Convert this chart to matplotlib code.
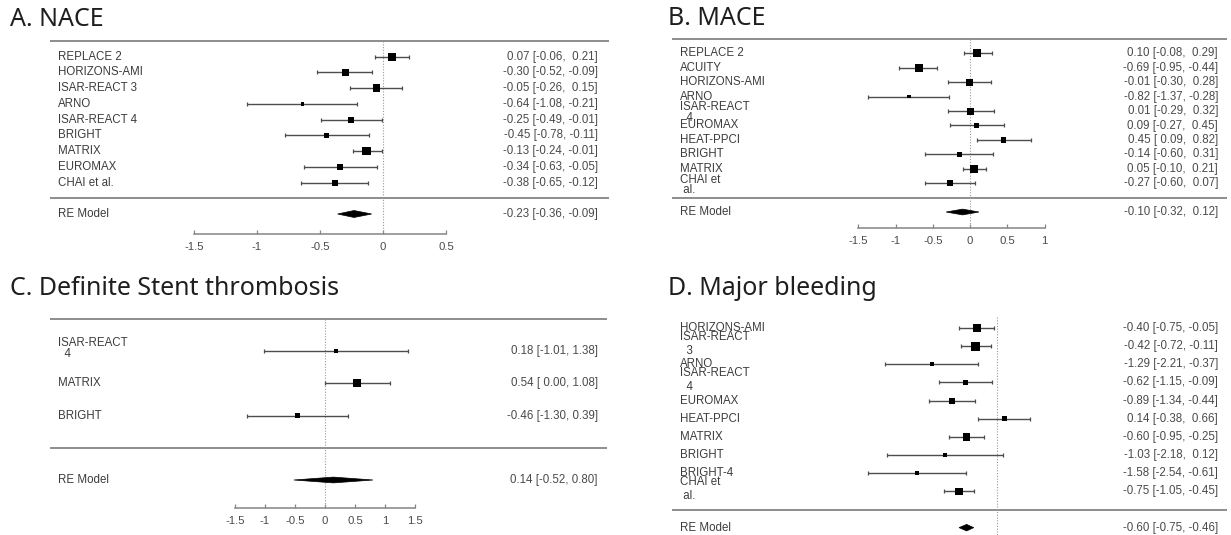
import matplotlib
matplotlib.use("Agg")
import matplotlib.pyplot as plt
import matplotlib.transforms as mtransforms
from matplotlib.patches import Polygon

plt.rcParams['axes.unicode_minus'] = False

W, H, DPI = 1231, 535, 100

# ---------------- data ----------------
nace_studies = ["REPLACE 2", "HORIZONS-AMI", "ISAR-REACT 3", "ARNO", "ISAR-REACT 4",
                "BRIGHT", "MATRIX", "EUROMAX", "CHAI et al."]
nace_est = [0.07, -0.30, -0.05, -0.64, -0.25, -0.45, -0.13, -0.34, -0.38]
nace_lo = [-0.06, -0.52, -0.26, -1.08, -0.49, -0.78, -0.24, -0.63, -0.65]
nace_hi = [0.21, -0.09, 0.15, -0.21, -0.01, -0.11, -0.01, -0.05, -0.12]
nace_pooled = [-0.23, -0.36, -0.09]
nace_ticks = [-1.5, -1, -0.5, 0, 0.5]
nace_ticklabels = ["-1.5", "-1", "-0.5", "0", "0.5"]

mace_studies = ["REPLACE 2", "ACUITY", "HORIZONS-AMI", "ARNO", "ISAR-REACT\n  4",
                "EUROMAX", "HEAT-PPCI", "BRIGHT", "MATRIX", "CHAI et\n al."]
mace_est = [0.10, -0.69, -0.01, -0.82, 0.01, 0.09, 0.45, -0.14, 0.05, -0.27]
mace_lo = [-0.08, -0.95, -0.30, -1.37, -0.29, -0.27, 0.09, -0.60, -0.10, -0.60]
mace_hi = [0.29, -0.44, 0.28, -0.28, 0.32, 0.45, 0.82, 0.31, 0.21, 0.07]
mace_pooled = [-0.10, -0.32, 0.12]
mace_ticks = [-1.5, -1, -0.5, 0, 0.5, 1]
mace_ticklabels = ["-1.5", "-1", "-0.5", "0", "0.5", "1"]

st_studies = ["ISAR-REACT\n  4", "MATRIX", "BRIGHT"]
st_est = [0.18, 0.54, -0.46]
st_lo = [-1.01, 0.00, -1.30]
st_hi = [1.38, 1.08, 0.39]
st_pooled = [0.14, -0.52, 0.80]
st_ticks = [-1.5, -1, -0.5, 0, 0.5, 1, 1.5]
st_ticklabels = ["-1.5", "-1", "-0.5", "0", "0.5", "1", "1.5"]

bleed_studies = ["HORIZONS-AMI", "ISAR-REACT\n  3", "ARNO", "ISAR-REACT\n  4", "EUROMAX",
                 "HEAT-PPCI", "MATRIX", "BRIGHT", "BRIGHT-4", "CHAI et\n al."]
bleed_est = [-0.40, -0.42, -1.29, -0.62, -0.89, 0.14, -0.60, -1.03, -1.58, -0.75]
bleed_lo = [-0.75, -0.72, -2.21, -1.15, -1.34, -0.38, -0.95, -2.18, -2.54, -1.05]
bleed_hi = [-0.05, -0.11, -0.37, -0.09, -0.44, 0.66, -0.25, 0.12, -0.61, -0.45]
bleed_pooled = [-0.60, -0.75, -0.46]

# square sizes (px) reflecting study weights
nace_box = [8, 7, 7.5, 3.5, 6, 4.5, 8.5, 5.5, 6]
mace_box = [8, 8, 7, 3.5, 7, 5.5, 5.5, 4.5, 8, 6.5]
st_box = [3.5, 8, 5.5]
bleed_box = [8, 9, 4, 5.5, 6, 5, 7.5, 3.5, 3.5, 7.5]

LABEL_FONT = ["Liberation Sans", "DejaVu Sans"]
TITLE_FONT = ["Noto Sans", "DejaVu Sans"]
LABEL_COLOR = "#3c3c3c"
ANNOT_COLOR = "#4a4a4a"
RULE_COLOR = "#858585"

fig = plt.figure(figsize=(W / DPI, H / DPI), dpi=DPI)
fig.patch.set_facecolor("white")


def fmt_col(values):
    mixed = any(v < 0 for v in values)
    out = []
    for v in values:
        s = f"{v:.2f}"
        if mixed and v >= 0:
            s = " " + s
        out.append(s)
    return out


def forest(box, zero_px, ppu, row0, step, studies, est, lo, hi, pooled, sizes,
           label_px, annot_px, top_rule, sep_row, re_row, axis_row=None,
           ticks=None, ticklabels=None, zero_top=None, diamond_h=0.2,
           wrap_spacing=1.0, wrap_shift=0.0):
    l, r, t, b = box
    ax = fig.add_axes([l / W, 1 - b / H, (r - l) / W, (b - t) / H])
    ax.set_xlim((l - zero_px) / ppu, (r - zero_px) / ppu)
    ax.set_ylim((b - row0) / step, (t - row0) / step)
    ax.patch.set_alpha(0)
    for s in ["left", "right", "top"]:
        ax.spines[s].set_visible(False)
    ax.set_yticks([])

    if axis_row is None:
        ax.spines["bottom"].set_visible(False)
        ax.set_xticks([])
        zero_bottom = ax.get_ylim()[0]
    else:
        sp = ax.spines["bottom"]
        sp.set_position(("data", axis_row))
        sp.set_bounds(ticks[0], ticks[-1])
        sp.set_color(RULE_COLOR)
        sp.set_linewidth(1.1)
        ax.set_xticks(ticks)
        ax.set_xticklabels(ticklabels, family=LABEL_FONT)
        ax.tick_params(axis="x", direction="in", length=3, width=0.9,
                       color=RULE_COLOR, labelsize=8.2, labelcolor=ANNOT_COLOR, pad=6)
        zero_bottom = axis_row

    # horizontal rules
    if top_rule is not None:
        ax.axhline(top_rule, color=RULE_COLOR, lw=1.3)
    ax.axhline(sep_row, color=RULE_COLOR, lw=1.3)

    # reference line at zero
    z_top = top_rule if zero_top is None else zero_top
    ax.plot([0, 0], [z_top, zero_bottom], color="#9a9a9a", lw=0.8,
            ls=(0, (1, 1.5)))

    rows = list(range(len(studies)))
    xerr = [[e - a for e, a in zip(est, lo)], [h - e for e, h in zip(est, hi)]]
    ax.errorbar(est, rows, xerr=xerr, fmt="none", ecolor="#4d4d4d",
                elinewidth=1.0, capsize=1.6, capthick=0.9)
    ax.scatter(est, rows, marker="s", s=[(sz * 0.72) ** 2 for sz in sizes],
               c="black", linewidths=0, zorder=3)

    pe, plo, phi = pooled
    ax.add_patch(Polygon([(plo, re_row), (pe, re_row - diamond_h),
                          (phi, re_row), (pe, re_row + diamond_h)],
                         closed=True, fc="black", ec="black", lw=0.5, zorder=3))

    trans = mtransforms.blended_transform_factory(ax.transAxes, ax.transData)
    lx = (label_px - l) / (r - l)
    ax_ = (annot_px - l) / (r - l)
    for i, name in enumerate(studies):
        wrapped = "\n" in name
        ax.text(lx, i + (wrap_shift if wrapped else 0), name, transform=trans,
                ha="left", va="center", fontsize=8.3, color=LABEL_COLOR,
                family=LABEL_FONT, linespacing=wrap_spacing if wrapped else 1.2)
    ax.text(lx, re_row, "RE Model", transform=trans, ha="left", va="center",
            fontsize=8.3, color=LABEL_COLOR, family=LABEL_FONT)

    lo_s = fmt_col(list(lo) + [plo])
    hi_s = fmt_col(list(hi) + [phi])
    est_s = [f"{v:.2f}" for v in list(est) + [pe]]
    ys = rows + [re_row]
    for y, e, a, h in zip(ys, est_s, lo_s, hi_s):
        ax.text(ax_, y, f"{e} [{a}, {h}]", transform=trans, ha="right",
                va="center", fontsize=8.3, color=ANNOT_COLOR, family=LABEL_FONT)
    return ax


# A. NACE
forest((50, 609, 30, 262), 383, 126, 56.7, 15.73,
       nace_studies, nace_est, nace_lo, nace_hi, nace_pooled, nace_box,
       58, 598, top_rule=-1, sep_row=9, re_row=10, axis_row=11.24,
       ticks=nace_ticks, ticklabels=nace_ticklabels, diamond_h=0.22)

# B. MACE
forest((672, 1227, 28, 262), 970, 74.5, 53.4, 14.42,
       mace_studies, mace_est, mace_lo, mace_hi, mace_pooled, mace_box,
       680, 1218, top_rule=-1, sep_row=10, re_row=11, axis_row=12.11,
       ticks=mace_ticks, ticklabels=mace_ticklabels, diamond_h=0.2,
       wrap_spacing=0.8, wrap_shift=0.1)

# C. Definite stent thrombosis
forest((50, 607, 305, 535), 325, 60, 351.2, 32.2,
       st_studies, st_est, st_lo, st_hi, st_pooled, st_box,
       58, 598, top_rule=-1, sep_row=3, re_row=4, axis_row=4.87,
       ticks=st_ticks, ticklabels=st_ticklabels, diamond_h=0.09,
       wrap_spacing=0.93, wrap_shift=-0.08)

# D. Major bleeding
forest((672, 1227, 305, 535), 997, 50.6, 328, 18.15,
       bleed_studies, bleed_est, bleed_lo, bleed_hi, bleed_pooled, bleed_box,
       680, 1218, top_rule=None, sep_row=10, re_row=11, zero_top=-0.6,
       diamond_h=0.18, wrap_spacing=1.2, wrap_shift=-0.12)

titles = [("A. NACE", 10, 26), ("B. MACE", 668, 25),
          ("C. Definite Stent thrombosis", 10, 295), ("D. Major bleeding", 668, 295)]
for txt, x, y in titles:
    fig.text(x / W, 1 - y / H, txt, ha="left", va="baseline", fontsize=18,
             color="#1e1e1e", family=TITLE_FONT)

fig.savefig("out.png", dpi=DPI, facecolor="white")
